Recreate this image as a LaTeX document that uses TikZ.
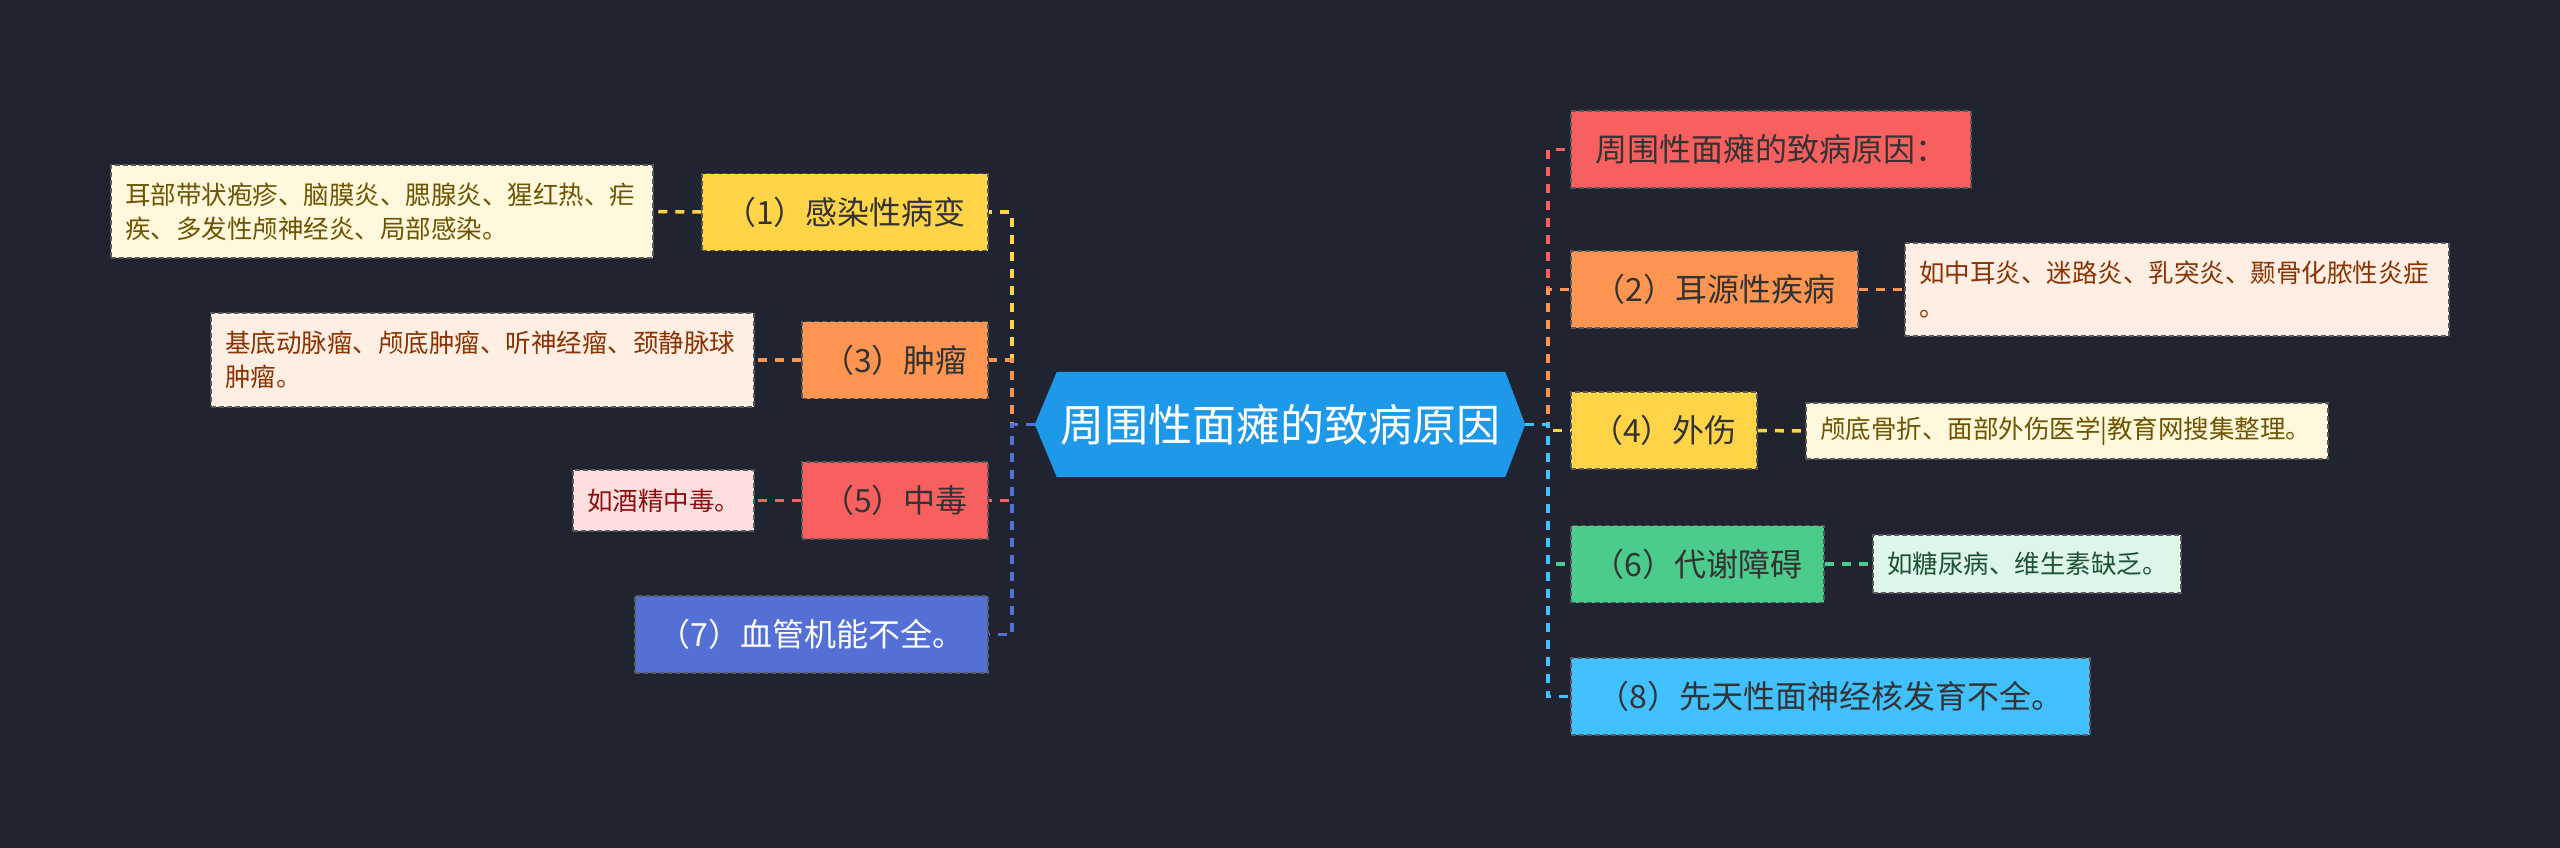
\documentclass[tikz,border=0pt]{standalone}
\usepackage{fontspec}
\setmainfont{Noto Sans CJK SC}
\usetikzlibrary{calc}
\definecolor{bgc}{HTML}{202430}
\definecolor{rootc}{HTML}{1E98E9}
\definecolor{cyel}{HTML}{FFD447}
\definecolor{cora}{HTML}{FF9550}
\definecolor{cred}{HTML}{F86060}
\definecolor{cblu}{HTML}{5470D5}
\definecolor{cgrn}{HTML}{4BCB8C}
\definecolor{clbl}{HTML}{41C1FF}
\definecolor{dyel}{HTML}{FFF8DC}
\definecolor{tyel}{HTML}{6E5400}
\definecolor{dora}{HTML}{FFEEE3}
\definecolor{tora}{HTML}{8A3300}
\definecolor{dred}{HTML}{FFDEDF}
\definecolor{tred}{HTML}{8C0E0E}
\definecolor{dgrn}{HTML}{DEF5E9}
\definecolor{tgrn}{HTML}{1D5234}
\definecolor{tdark}{HTML}{333333}
\begin{document}
\begin{tikzpicture}[x=1pt,y=-1pt,
  box/.style={draw=black!65, line width=1.5pt, dash pattern=on 5pt off 3pt, inner sep=0pt},
  mainbox/.style={box, fill=#1, text=tdark, font=\fontsize{32}{38}\selectfont, minimum height=77pt},
  detbox/.style={box, align=left, font=\fontsize{25.5}{34}\selectfont, inner xsep=14pt, inner ysep=0pt},
  conn/.style={draw=#1, line width=3.5pt, dash pattern=on 9pt off 8pt}]
\useasboundingbox (0,0) rectangle (2560,847);
\fill[bgc] (-5,-5) rectangle (2565,852);
% root
\node[minimum width=490pt, minimum height=105pt, inner sep=0pt] (root) at (1280,424.5) {};
\fill[rootc] (root.west) -- ([xshift=22pt]root.north west) -- ([xshift=-20pt]root.north east)
  -- (root.east) -- ([xshift=-20pt]root.south east) -- ([xshift=22pt]root.south west) -- cycle;
% left children
\node[mainbox=cyel, minimum width=286pt] (c1) at (845,212) {（1）感染性病变};
\node[mainbox=cora, minimum width=186pt] (c3) at (895,360) {（3）肿瘤};
\node[mainbox=cred, minimum width=186pt] (c5) at (895,500.5) {（5）中毒};
\node[mainbox=cblu, minimum width=353pt, text=white] (c7) at (811.5,634.5) {（7）血管机能不全。};
\node[detbox, fill=dyel, text=tyel, text width=514pt, minimum height=93pt] (d1) at (382,211.5)
  {耳部带状疱疹、脑膜炎、腮腺炎、猩红热、疟\\疾、多发性颅神经炎、局部感染。};
\node[detbox, fill=dora, text=tora, text width=515pt, minimum height=94pt] (d3) at (482.5,360)
  {基底动脉瘤、颅底肿瘤、听神经瘤、颈静脉球\\肿瘤。};
\node[detbox, fill=dred, text=tred, text width=153pt, minimum height=61pt] (d5) at (663.5,500.5)
  {如酒精中毒。};
% right children
\node[mainbox=cred, minimum width=400pt] (r1) at (1771,149.5) {周围性面瘫的致病原因：};
\node[mainbox=cora, minimum width=287pt] (r2) at (1714.5,289.5) {（2）耳源性疾病};
\node[mainbox=cyel, minimum width=186pt] (r4) at (1664,430.5) {（4）外伤};
\node[mainbox=cgrn, minimum width=253pt] (r6) at (1697.5,564) {（6）代谢障碍};
\node[mainbox=clbl, minimum width=519pt] (r8) at (1830.5,696.5) {（8）先天性面神经核发育不全。};
\node[detbox, fill=dora, text=tora, text width=516pt, minimum height=93pt] (e2) at (2177,289.5)
  {如中耳炎、迷路炎、乳突炎、颞骨化脓性炎症\\。};
\node[detbox, fill=dyel, text=tyel, text width=494pt, minimum height=56pt] (e4) at (2067,431)
  {颅底骨折、面部外伤医学|教育网搜集整理。};
\node[detbox, fill=dgrn, text=tgrn, text width=280pt, minimum height=58pt] (e6) at (2027,564)
  {如糖尿病、维生素缺乏。};
% connectors left
\draw[conn=cyel] (root.west) -- ++(-23,0) |- (c1.east);
\draw[conn=cora] (root.west) -- ++(-23,0) |- (c3.east);
\draw[conn=cred] (root.west) -- ++(-23,0) |- (c5.east);
\draw[conn=cblu] (root.west) -- ++(-23,0) |- (c7.east);
\draw[conn=cyel] (c1.west) -- (d1.east);
\draw[conn=cora] (c3.west) -- (d3.east);
\draw[conn=cred] (c5.west) -- (d5.east);
% connectors right
\draw[conn=cred] (root.east) -- ++(23,0) |- (r1.west);
\draw[conn=cora] (root.east) -- ++(23,0) |- (r2.west);
\draw[conn=cyel] (root.east) -- ++(23,0) |- (r4.west);
\draw[conn=cgrn] (root.east) -- ++(23,0) |- (r6.west);
\draw[conn=clbl] (root.east) -- ++(23,0) |- (r8.west);
\draw[conn=cora] (r2.east) -- (e2.west);
\draw[conn=cyel] (r4.east) -- (e4.west);
\draw[conn=cgrn] (r6.east) -- (e6.west);
% root label
\node[text=white, font=\fontsize{44}{50}\selectfont, inner sep=0pt] (rootlabel) at (root.center) {周围性面瘫的致病原因};
\end{tikzpicture}
\end{document}
